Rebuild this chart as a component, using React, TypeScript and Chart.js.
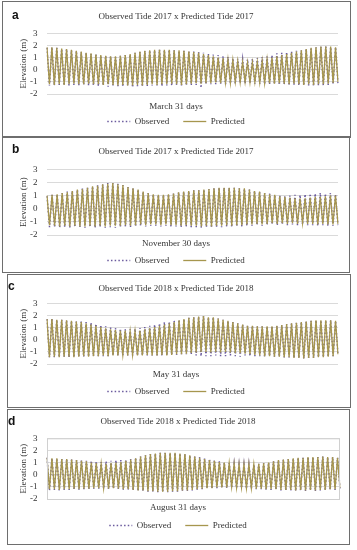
import React, { useEffect, useRef } from 'react';
import { Chart, registerables } from 'chart.js';
Chart.register(...registerables);

// ---------- text ----------
const panelLetters = ['a', 'b', 'c', 'd'];
const chartTitles = [
  'Observed Tide 2017 x Predicted Tide 2017',
  'Observed Tide 2017 x Predicted Tide 2017',
  'Observed Tide 2018 x Predicted Tide 2018',
  'Observed Tide 2018 x Predicted Tide 2018',
];
const xTitles = ['March 31 days', 'November 30 days', 'May 31 days', 'August 31 days'];
const seriesNames = ['Observed', 'Predicted'];
const yAxisTitle = 'Elevation (m)';
const yMin = -2;
const yMax = 3;
const yStep = 1;

// ---------- data: high / low water of each tide (m) ----------
// (a) March 2017
const predHighA = [1.85,1.85,1.8,1.75,1.7,1.65,1.55,1.5,1.4,1.35,1.25,1.2,1.15,1.1,1.1,1.15,1.2,1.3,1.4,1.5,1.55,1.6,1.65,1.65,1.65,1.65,1.6,1.6,1.55,1.5,1.45,1.4,1.3,1.2,1.1,1.0,0.95,0.85,0.8,0.7,0.65,0.6,0.6,0.65,0.75,0.85,1.0,1.1,1.2,1.3,1.4,1.5,1.6,1.7,1.8,1.85,1.9,1.9,1.9,1.85];
const predLowA = [-1.2,-1.25,-1.2,-1.25,-1.2,-1.15,-1.2,-1.2,-1.15,-1.2,-1.2,-1.25,-1.2,-1.25,-1.3,-1.25,-1.3,-1.3,-1.25,-1.3,-1.25,-1.2,-1.25,-1.2,-1.2,-1.15,-1.2,-1.25,-1.2,-1.15,-1.1,-1.15,-1.1,-1.1,-1.05,-1.1,-1.05,-1.1,-1.0,-1.05,-1.0,-1.05,-1.0,-1.05,-1.1,-1.1,-1.15,-1.1,-1.15,-1.2,-1.15,-1.2,-1.25,-1.2,-1.25,-1.2,-1.2,-1.15,-1.1,-1.0];
const obsHighA = [1.8,1.85,1.8,1.7,1.7,1.6,1.55,1.45,1.4,1.3,1.25,1.15,1.15,1.1,1.05,1.15,1.2,1.25,1.4,1.45,1.55,1.6,1.6,1.65,1.6,1.65,1.6,1.55,1.55,1.5,1.5,1.45,1.4,1.3,1.25,1.2,1.1,1.05,0.95,0.9,0.85,0.85,0.9,0.95,1.05,1.1,1.2,1.35,1.4,1.45,1.5,1.55,1.6,1.7,1.75,1.85,1.9,1.9,1.85,1.85];
const obsLowA = [-1.3,-1.3,-1.25,-1.3,-1.3,-1.25,-1.3,-1.25,-1.3,-1.3,-1.35,-1.3,-1.4,-1.3,-1.35,-1.4,-1.3,-1.45,-1.35,-1.4,-1.35,-1.3,-1.3,-1.35,-1.3,-1.3,-1.25,-1.3,-1.3,-1.25,-1.25,-1.5,-1.2,-1.2,-1.2,-1.15,-1.2,-1.15,-1.15,-1.1,-1.15,-1.1,-1.15,-1.15,-1.2,-1.2,-1.2,-1.25,-1.2,-1.3,-1.25,-1.3,-1.3,-1.3,-1.35,-1.3,-1.3,-1.25,-1.2,-1.1];

// (b) November 2017
const predHighB = [1.0,1.05,1.1,1.2,1.25,1.35,1.45,1.5,1.6,1.7,1.75,1.85,1.9,1.95,1.85,1.8,1.65,1.55,1.45,1.3,1.2,1.1,1.05,1.05,1.1,1.15,1.25,1.3,1.35,1.4,1.4,1.45,1.5,1.55,1.6,1.6,1.6,1.6,1.55,1.55,1.45,1.35,1.3,1.2,1.1,1.05,0.95,0.9,0.85,0.8,0.8,0.8,0.85,0.9,0.9,0.95,1.0,1.0];
const predLowB = [-1.25,-1.3,-1.35,-1.3,-1.35,-1.3,-1.35,-1.35,-1.3,-1.35,-1.3,-1.35,-1.3,-1.3,-1.3,-1.25,-1.3,-1.25,-1.2,-1.25,-1.2,-1.2,-1.25,-1.2,-1.25,-1.25,-1.3,-1.25,-1.3,-1.3,-1.35,-1.3,-1.35,-1.3,-1.3,-1.25,-1.3,-1.25,-1.25,-1.2,-1.2,-1.15,-1.2,-1.15,-1.1,-1.15,-1.1,-1.15,-1.1,-1.15,-1.1,-1.15,-1.15,-1.2,-1.15,-1.2,-1.2,-1.15];
const obsHighB = [0.95,1.05,1.1,1.2,1.3,1.35,1.45,1.55,1.6,1.7,1.8,1.85,1.95,1.95,1.9,1.8,1.65,1.55,1.45,1.3,1.2,1.1,1.05,1.05,1.1,1.15,1.25,1.3,1.35,1.4,1.4,1.45,1.5,1.55,1.6,1.6,1.6,1.6,1.55,1.5,1.45,1.35,1.3,1.2,1.15,1.05,1.0,0.95,1.0,1.05,1.05,1.1,1.15,1.15,1.2,1.15,1.2,1.1];
const obsLowB = [-1.4,-1.4,-1.45,-1.4,-1.45,-1.4,-1.4,-1.45,-1.4,-1.45,-1.4,-1.45,-1.4,-1.45,-1.4,-1.35,-1.4,-1.35,-1.3,-1.35,-1.3,-1.3,-1.35,-1.3,-1.35,-1.35,-1.4,-1.35,-1.4,-1.4,-1.45,-1.4,-1.45,-1.4,-1.4,-1.35,-1.4,-1.35,-1.35,-1.3,-1.3,-1.25,-1.3,-1.25,-1.2,-1.25,-1.2,-1.25,-1.2,-1.25,-1.2,-1.25,-1.25,-1.3,-1.25,-1.3,-1.3,-1.25];

// (c) May 2018
const predHighC = [1.7,1.7,1.65,1.65,1.6,1.55,1.5,1.45,1.35,1.25,1.15,1.05,0.95,0.85,0.8,0.75,0.75,0.7,0.7,0.75,0.85,0.95,1.05,1.15,1.25,1.35,1.45,1.6,1.7,1.8,1.85,1.9,1.95,1.85,1.85,1.75,1.65,1.55,1.45,1.35,1.25,1.15,1.15,1.1,1.1,1.1,1.1,1.15,1.2,1.3,1.35,1.4,1.45,1.5,1.55,1.6,1.6,1.6,1.6,1.55];
const predLowC = [-1.45,-1.4,-1.45,-1.4,-1.4,-1.45,-1.4,-1.35,-1.4,-1.35,-1.35,-1.3,-1.35,-1.3,-1.3,-1.25,-1.3,-1.25,-1.3,-1.3,-1.25,-1.3,-1.3,-1.25,-1.3,-1.25,-1.2,-1.2,-1.15,-1.1,-1.05,-1.0,-1.0,-1.05,-1.0,-1.05,-1.0,-1.05,-1.1,-1.1,-1.15,-1.2,-1.25,-1.3,-1.35,-1.35,-1.4,-1.4,-1.45,-1.45,-1.5,-1.5,-1.55,-1.5,-1.5,-1.45,-1.45,-1.4,-1.35,-1.2];
const obsHighC = [1.7,1.75,1.65,1.65,1.6,1.55,1.5,1.5,1.45,1.4,1.3,1.2,1.1,1.0,0.95,0.9,0.85,0.85,0.9,0.95,1.05,1.15,1.25,1.35,1.45,1.5,1.55,1.65,1.7,1.8,1.85,1.9,1.95,1.85,1.85,1.75,1.65,1.55,1.45,1.35,1.25,1.15,1.15,1.1,1.1,1.1,1.1,1.15,1.2,1.3,1.35,1.4,1.45,1.5,1.55,1.6,1.6,1.6,1.6,1.55];
const obsLowC = [-1.45,-1.45,-1.45,-1.4,-1.45,-1.45,-1.4,-1.4,-1.4,-1.35,-1.35,-1.35,-1.35,-1.3,-1.3,-1.3,-1.3,-1.3,-1.3,-1.3,-1.3,-1.3,-1.3,-1.3,-1.3,-1.25,-1.25,-1.2,-1.2,-1.2,-1.3,-1.35,-1.35,-1.35,-1.3,-1.35,-1.35,-1.3,-1.35,-1.4,-1.3,-1.35,-1.35,-1.35,-1.4,-1.35,-1.4,-1.4,-1.45,-1.45,-1.5,-1.5,-1.55,-1.5,-1.5,-1.45,-1.45,-1.4,-1.35,-1.2];

// (d) August 2018
const predHighD = [1.4,1.35,1.35,1.3,1.3,1.25,1.2,1.15,1.1,1.0,0.95,0.9,0.9,0.95,1.0,1.05,1.15,1.25,1.35,1.5,1.6,1.7,1.75,1.8,1.8,1.8,1.8,1.75,1.7,1.6,1.5,1.4,1.3,1.2,1.15,1.05,1.0,0.95,0.9,0.85,0.85,0.85,0.85,0.9,0.95,1.0,1.1,1.2,1.25,1.3,1.35,1.4,1.4,1.45,1.45,1.45,1.5,1.45,1.45,1.4];
const predLowD = [-1.2,-1.2,-1.25,-1.2,-1.2,-1.15,-1.2,-1.15,-1.15,-1.1,-1.1,-1.1,-1.15,-1.1,-1.15,-1.2,-1.2,-1.25,-1.3,-1.3,-1.35,-1.35,-1.4,-1.4,-1.4,-1.35,-1.35,-1.3,-1.3,-1.25,-1.2,-1.15,-1.1,-1.1,-1.05,-1.05,-1.05,-1.0,-1.05,-1.05,-1.1,-1.1,-1.15,-1.15,-1.2,-1.2,-1.2,-1.25,-1.25,-1.25,-1.3,-1.25,-1.3,-1.25,-1.3,-1.25,-1.25,-1.2,-1.2,-1.1];
const obsHighD = [1.4,1.35,1.35,1.3,1.3,1.25,1.2,1.2,1.15,1.15,1.1,1.05,1.1,1.15,1.2,1.2,1.25,1.3,1.4,1.5,1.6,1.7,1.75,1.8,1.8,1.8,1.8,1.75,1.7,1.6,1.5,1.45,1.35,1.3,1.2,1.1,1.0,0.95,0.9,0.85,0.85,0.85,0.85,0.9,0.95,1.0,1.1,1.2,1.25,1.3,1.35,1.4,1.4,1.45,1.45,1.45,1.5,1.45,1.45,1.4];
const obsLowD = [-1.3,-1.25,-1.3,-1.25,-1.25,-1.2,-1.25,-1.2,-1.2,-1.15,-1.15,-1.15,-1.2,-1.15,-1.2,-1.25,-1.25,-1.3,-1.35,-1.35,-1.4,-1.4,-1.45,-1.45,-1.45,-1.4,-1.4,-1.35,-1.35,-1.3,-1.25,-1.2,-1.15,-1.15,-1.1,-1.1,-1.1,-1.05,-1.1,-1.1,-1.15,-1.15,-1.2,-1.2,-1.25,-1.25,-1.25,-1.3,-1.3,-1.3,-1.35,-1.3,-1.35,-1.3,-1.35,-1.3,-1.3,-1.25,-1.25,-1.15];

const highsObs = [obsHighA, obsHighB, obsHighC, obsHighD];
const lowsObs = [obsLowA, obsLowB, obsLowC, obsLowD];
const highsPred = [predHighA, predHighB, predHighC, predHighD];
const lowsPred = [predLowA, predLowB, predLowC, predLowD];

// ---------- styles ----------
const OBS_COLOR = '#6b5b9e';
const PRED_COLOR = '#a6964e';
const GRID_COLOR = '#dadada';
const TEXT_COLOR = '#333333';
const SERIF = '"Liberation Serif", "DejaVu Serif", serif';
const OBS_DASH = [1.5, 2.2];

type PanelLayout = {
  box: [number, number, number, number];
  canvas: [number, number, number, number];
  padL: number;
  padR: number;
  yWidth: number;
  yTitlePad: number;
  titlePad: [number, number];
  subPad: [number, number];
  letter: [number, number];
  frame: boolean;
};

const layouts: PanelLayout[] = [
  { box: [2, 1, 349, 137], canvas: [3, 2, 346, 134], padL: 11, padR: 11, yWidth: 33, yTitlePad: 4.1, titlePad: [9.6, 10.9], subPad: [7.6, -9.4], letter: [12, 8.5], frame: false },
  { box: [2, 136, 348, 137], canvas: [3, 137, 345, 138], padL: 11, padR: 10, yWidth: 33, yTitlePad: 4.1, titlePad: [9.6, 11.9], subPad: [3.6, -7.4], letter: [12, 143.3], frame: false },
  { box: [7, 274, 344, 134], canvas: [8, 275, 341, 131], padL: 6, padR: 11, yWidth: 33, yTitlePad: 4.6, titlePad: [7.9, 9.6], subPad: [4.9, -6.7], letter: [8, 279.5], frame: false },
  { box: [7, 409, 343, 136], canvas: [8, 410, 340, 130], padL: 8, padR: 8, yWidth: 31, yTitlePad: 2.1, titlePad: [6.3, 11.2], subPad: [3.3, -6.1], letter: [8, 415], frame: true },
];

function interleave(h: number[], l: number[]) {
  const out: number[] = [];
  for (let i = 0; i < h.length; i++) {
    out.push(h[i], l[i]);
  }
  return out;
}

const framePlugin = {
  id: 'plotFrame',
  afterDraw(chart: any, _args: any, opts: any) {
    if (!opts || !opts.show) return;
    const { ctx, chartArea } = chart;
    ctx.save();
    ctx.strokeStyle = '#d0d0d0';
    ctx.lineWidth = 1;
    ctx.strokeRect(chartArea.left + 0.5, chartArea.top + 0.5, chartArea.width - 1, chartArea.height);
    ctx.restore();
  },
};

function Panel({ idx }: { idx: number }) {
  const ref = useRef<HTMLCanvasElement | null>(null);
  const L = layouts[idx];
  useEffect(() => {
    if (!ref.current) return;
    const obs = interleave(highsObs[idx], lowsObs[idx]);
    const pred = interleave(highsPred[idx], lowsPred[idx]);
    const labels = obs.map((_, i) => String(i));
    const font = { family: SERIF, size: 9, weight: 'normal' as const };
    const chart = new Chart(ref.current, {
      type: 'line',
      data: {
        labels,
        datasets: [
          {
            label: seriesNames[0],
            data: obs,
            borderColor: OBS_COLOR,
            backgroundColor: OBS_COLOR,
            borderWidth: 1.5,
            borderDash: OBS_DASH,
            pointRadius: 0,
            tension: 0,
            order: 1,
          },
          {
            label: seriesNames[1],
            data: pred,
            borderColor: PRED_COLOR,
            backgroundColor: PRED_COLOR,
            borderWidth: 1.3,
            pointRadius: 0,
            tension: 0,
            order: 0,
          },
        ],
      },
      options: {
        responsive: false,
        animation: false,
        events: [],
        layout: { padding: { left: L.padL, right: L.padR, top: 0, bottom: 0 } },
        scales: {
          x: { display: false },
          y: {
            min: yMin,
            max: yMax,
            afterFit: (s: any) => { s.width = L.yWidth; },
            ticks: { stepSize: yStep, autoSkip: false, font, color: TEXT_COLOR, padding: 9.5 },
            grid: { color: GRID_COLOR, drawTicks: false, lineWidth: 1 },
            border: { display: false },
            title: { display: true, text: yAxisTitle, font, color: TEXT_COLOR, padding: { top: L.yTitlePad, bottom: 0 } },
          },
        },
        plugins: {
          tooltip: { enabled: false },
          title: { display: true, text: chartTitles[idx], font, color: TEXT_COLOR, padding: { top: L.titlePad[0], bottom: L.titlePad[1] } },
          subtitle: { display: true, position: 'bottom', weight: 500, text: xTitles[idx], font, color: TEXT_COLOR, padding: { top: L.subPad[0], bottom: L.subPad[1] } },
          legend: {
            position: 'bottom',
            labels: {
              font,
              color: TEXT_COLOR,
              usePointStyle: true,
              pointStyle: 'line',
              pointStyleWidth: 23,
              padding: 14,
              sort: (a: any, b: any) => a.datasetIndex - b.datasetIndex,
              generateLabels: (ch: any) => {
                const items = Chart.defaults.plugins.legend.labels.generateLabels(ch);
                return items.map((it: any) => {
                  const ds = ch.data.datasets[it.datasetIndex];
                  return {
                    ...it,
                    pointStyle: 'line',
                    strokeStyle: ds.borderColor,
                    lineWidth: ds.borderWidth,
                    lineDash: ds.borderDash || [],
                  };
                });
              },
            },
          },
          plotFrame: { show: L.frame },
        } as any,
      },
      plugins: [framePlugin],
    });
    return () => chart.destroy();
  }, [idx]);

  return (
    <>
      <div
        style={{
          position: 'absolute',
          left: L.box[0],
          top: L.box[1],
          width: L.box[2],
          height: L.box[3],
          boxSizing: 'border-box',
          border: '1px solid #6e6e6e',
        }}
      />
      <canvas
        ref={ref}
        width={L.canvas[2]}
        height={L.canvas[3]}
        style={{ position: 'absolute', left: L.canvas[0], top: L.canvas[1], width: L.canvas[2], height: L.canvas[3] }}
      />
      <span
        style={{
          position: 'absolute',
          left: L.letter[0],
          top: L.letter[1],
          font: 'bold 12px "Liberation Sans", Arial, sans-serif',
          lineHeight: '12px',
          color: '#111',
        }}
      >
        {panelLetters[idx]}
      </span>
    </>
  );
}

export default function App() {
  return (
    <div style={{ position: 'absolute', left: 0, top: 0, width: 357, height: 550, background: '#fff', overflow: 'hidden' }}>
      {[0, 1, 2, 3].map((i) => (
        <Panel key={i} idx={i} />
      ))}
    </div>
  );
}
